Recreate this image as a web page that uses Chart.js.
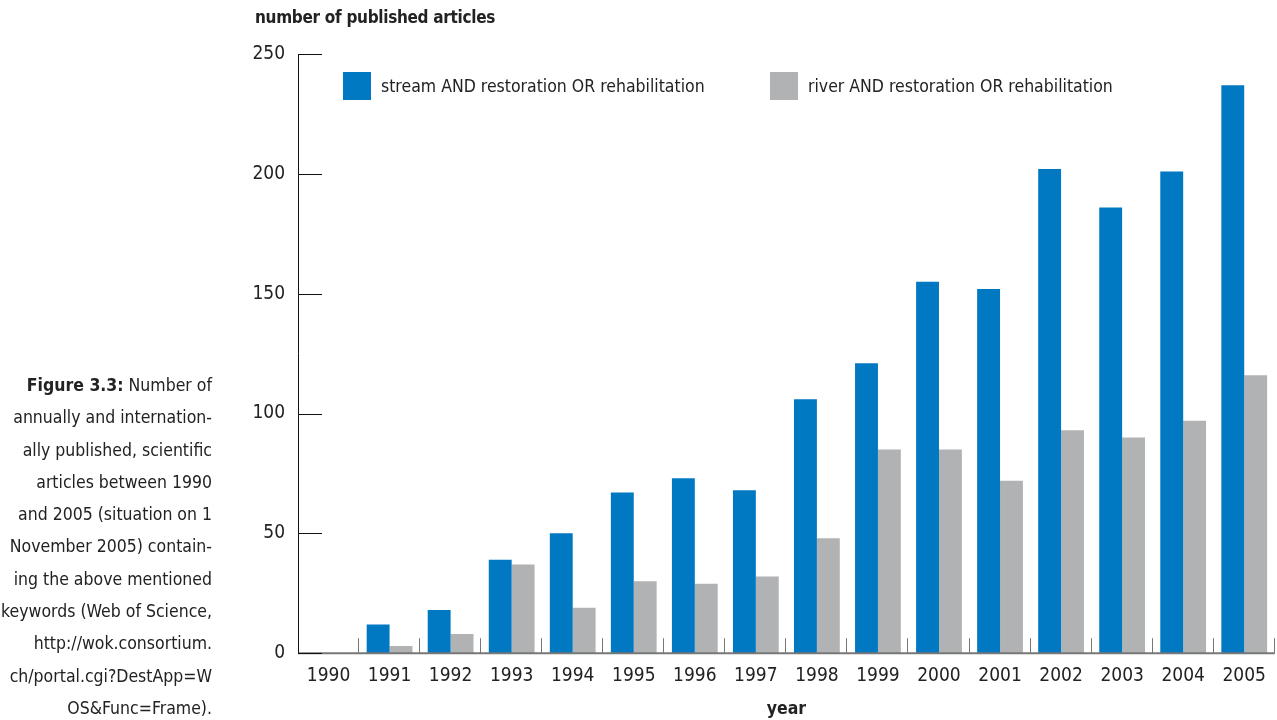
<!DOCTYPE html>
<html>
<head>
    <title>Published articles per year</title>
    <script src="https://cdn.jsdelivr.net/npm/chart.js@4.4.1/dist/chart.umd.min.js"></script>
    <style>
        body { margin: 0; background: #fff; font-family: 'Liberation Sans Narrow', 'DejaVu Sans Condensed', Roboto, sans-serif; color: #222; }
        #wrap { position: relative; width: 1277px; height: 720px; }
        #chartCanvas { position: absolute; left: 0; top: 0; }
        #ytitle { position: absolute; left: 255px; top: 7px; font-size: 17px; font-weight: bold; letter-spacing: -0.3px; }
        #caption { position: absolute; right: 1065px; top: 369px; width: 240px; text-align: right; font-size: 17.5px; line-height: 32.3px; }
        #legend { position: absolute; top: 72px; left: 0; }
        .item { position: absolute; white-space: nowrap; font-size: 17.5px; line-height: 28px; }
        .box { display: inline-block; width: 28px; height: 28px; vertical-align: top; margin-right: 10px; }
    </style>
</head>
<body>
<div id="wrap">
    <canvas id="chartCanvas" width="1277" height="720"></canvas>
    <div id="ytitle">number of published articles</div>
    <div id="legend"></div>
    <div id="caption"><b>Figure 3.3:</b> Number of<br>annually and internation-<br>ally published, scientific<br>articles between 1990<br>and 2005 (situation on 1<br>November 2005) contain-<br>ing the above mentioned<br>keywords (Web of Science,<br>http://wok.consortium.<br>ch/portal.cgi?DestApp=W<br>OS&amp;Func=Frame).</div>
</div>

<script>
    // Datele
    const years = ['1990', '1991', '1992', '1993', '1994', '1995', '1996', '1997',
                   '1998', '1999', '2000', '2001', '2002', '2003', '2004', '2005'];
    const streamVals = [0, 12, 18, 39, 50, 67, 73, 68, 106, 121, 155, 152, 202, 186, 201, 237];
    const riverVals = [0, 3, 8, 37, 19, 30, 29, 32, 48, 85, 85, 72, 93, 90, 97, 116];
    const yTicks = [0, 50, 100, 150, 200, 250];
    const seriesNames = ['stream AND restoration OR rehabilitation', 'river AND restoration OR rehabilitation'];
    const seriesColors = ['#0079c2', '#b1b2b4'];

    const fontFam = "'Liberation Sans Narrow', 'DejaVu Sans Condensed', Roboto, sans-serif";

    // tick-uri spre interior
    const innerTicks = {
        id: 'innerTicks',
        afterDraw(chart) {
            const c = chart.ctx;
            const ys = chart.scales.y;
            const xs = chart.scales.x;
            const area = chart.chartArea;
            c.save();
            // axa x
            c.strokeStyle = '#777';
            c.lineWidth = 2;
            c.beginPath();
            c.moveTo(area.left, area.bottom);
            c.lineTo(area.right, area.bottom);
            c.stroke();
            c.lineWidth = 1;
            const w = (xs.getPixelForValue(1) - xs.getPixelForValue(0));
            for (let i = 1; i <= years.length; i++) {
                const px = Math.round(xs.getPixelForValue(i) - w / 2) - 0.5;
                c.beginPath();
                c.moveTo(px, area.bottom);
                c.lineTo(px, area.bottom - 15);
                c.stroke();
            }
            // axa y
            c.strokeStyle = '#111';
            c.beginPath();
            c.moveTo(area.left + 0.5, ys.getPixelForValue(250));
            c.lineTo(area.left + 0.5, area.bottom);
            c.stroke();
            yTicks.forEach(v => {
                const py = Math.round(ys.getPixelForValue(v)) + 0.5;
                c.beginPath();
                c.moveTo(area.left, py);
                c.lineTo(area.left + 24, py);
                c.stroke();
            });
            c.restore();
        }
    };

    const ctx = document.getElementById('chartCanvas').getContext('2d');
    const chart = new Chart(ctx, {
        type: 'bar',
        data: {
            labels: years,
            datasets: [
                { label: seriesNames[0], data: streamVals, backgroundColor: seriesColors[0] },
                { label: seriesNames[1], data: riverVals, backgroundColor: seriesColors[1] }
            ]
        },
        options: {
            responsive: false,
            animation: false,
            layout: { padding: { left: 240, top: 54, right: 1, bottom: 0 } },
            datasets: { bar: { categoryPercentage: 0.75, barPercentage: 1.0 } },
            plugins: {
                legend: { display: false },
                tooltip: { enabled: false }
            },
            scales: {
                x: {
                    grid: { display: false, drawTicks: false },
                    border: { display: false },
                    ticks: { color: '#222', font: { family: fontFam, size: 19 }, padding: 11, maxRotation: 0 },
                    title: { display: true, text: 'year', color: '#222', font: { family: fontFam, size: 17.5, weight: 'bold' }, padding: { top: 1, bottom: 0 } }
                },
                y: {
                    min: 0, max: 250,
                    afterBuildTicks(scale) { scale.ticks = yTicks.map(v => ({ value: v })); },
                    afterFit(scale) { scale.width = 58; },
                    grid: { display: false, drawTicks: false },
                    border: { display: false },
                    ticks: { color: '#222', font: { family: fontFam, size: 19 }, padding: 13 }
                }
            }
        },
        plugins: [innerTicks]
    });

    // legenda
    const legendX = [343, 770];
    const legend = document.getElementById('legend');
    seriesNames.forEach((name, i) => {
        const item = document.createElement('div');
        item.className = 'item';
        item.style.left = legendX[i] + 'px';
        item.innerHTML = '<span class="box" style="background:' + seriesColors[i] + '"></span>' + name;
        legend.appendChild(item);
    });
</script>
</body>
</html>
